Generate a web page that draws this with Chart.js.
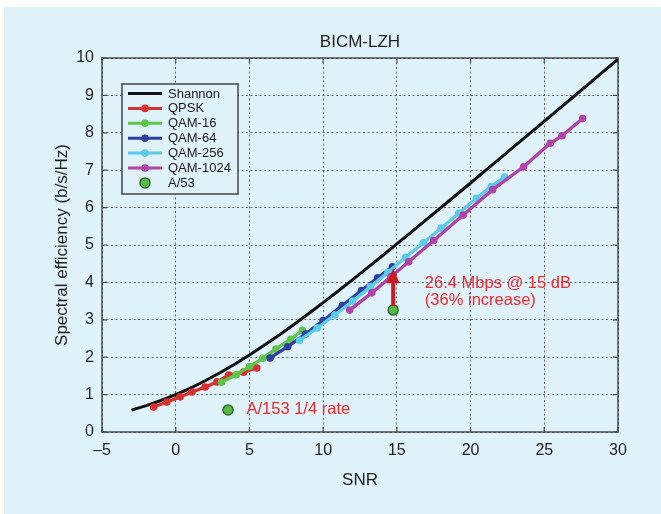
<!DOCTYPE html>
<html>
<head>
<meta charset="utf-8">
<title>BICM-LZH</title>
<script src="https://cdn.jsdelivr.net/npm/chart.js@4.4.1/dist/chart.umd.min.js"></script>
<style>
  html, body { margin: 0; padding: 0; background: #fff; }
  #wrap { width: 661px; height: 514px; position: relative; }
</style>
</head>
<body>
<div id="wrap"><canvas id="chart" width="661" height="514"></canvas></div>
<script>
// --- data ---
const xTicks = [-5, 0, 5, 10, 15, 20, 25, 30];
const yTicks = [0, 1, 2, 3, 4, 5, 6, 7, 8, 9, 10];

const shannonSnr = [-3, -2, -1, 0, 1, 2, 3, 4, 5, 6, 7, 8, 9, 10, 11, 12, 13, 14, 15, 16,
  17, 18, 19, 20, 21, 22, 23, 24, 25, 26, 27, 28, 29, 30];
const shannonEff = [0.586, 0.706, 0.843, 1.0, 1.176, 1.370, 1.583, 1.812, 2.057, 2.317,
  2.588, 2.870, 3.161, 3.459, 3.764, 4.075, 4.389, 4.707, 5.028, 5.351,
  5.676, 6.002, 6.330, 6.658, 6.988, 7.317, 7.648, 7.979, 8.309, 8.640,
  8.971, 9.302, 9.634, 9.967];

const qpskSnr = [-1.5, -0.6, 0.3, 1.1, 2.0, 2.8, 3.6, 4.6, 5.5];
const qpskEff = [0.67, 0.80, 0.94, 1.07, 1.20, 1.34, 1.52, 1.60, 1.71];

const qam16Snr = [3.1, 4.1, 5.0, 5.9, 6.8, 7.8, 8.6];
const qam16Eff = [1.33, 1.53, 1.75, 1.97, 2.22, 2.48, 2.72];

const qam64Snr = [6.4, 7.6, 8.8, 10.0, 11.3, 12.6, 13.7, 14.7];
const qam64Eff = [1.98, 2.28, 2.62, 2.98, 3.38, 3.78, 4.12, 4.42];

const qam256Snr = [8.4, 9.6, 10.8, 12.0, 13.2, 14.4, 15.6, 16.8, 18.0, 19.2, 20.4, 21.4, 22.3];
const qam256Eff = [2.45, 2.78, 3.13, 3.50, 3.88, 4.27, 4.67, 5.06, 5.45, 5.85, 6.25, 6.56, 6.82];

const qam1024Snr = [11.8, 13.3, 14.6, 15.8, 17.5, 19.5, 21.5, 23.6, 25.4, 26.2, 27.6];
const qam1024Eff = [3.26, 3.72, 4.15, 4.55, 5.12, 5.80, 6.48, 7.09, 7.72, 7.92, 8.38];

const a53Snr = [14.75, 3.55];
const a53Eff = [3.26, 0.59];

// annotation anchors (data units)
const arrowFrom = [14.75, 3.26];
const arrowTo = [14.75, 4.38];
const noteGain = ['26.4 Mbps @ 15 dB', '(36% increase)'];
const noteGainAt = [16.9, 3.98];
const noteLow = 'A/153 1/4 rate';
const noteLowAt = [4.8, 0.59];

const pts = (xs, ys) => xs.map((x, i) => ({ x: x, y: ys[i] }));

const FONT = 'Liberation Sans, Arial, Helvetica, sans-serif';
const PANEL = '#dff1f9';

function serie(label, xs, ys, color, order) {
    return {
        label: label,
        data: pts(xs, ys),
        borderColor: color,
        backgroundColor: color,
        borderWidth: 3.3,
        pointRadius: 3.8,
        pointBorderWidth: 0,
        pointBackgroundColor: color,
        order: order
    };
}

const datasets = [
    { label: 'Shannon', data: pts(shannonSnr, shannonEff), borderColor: '#111', backgroundColor: '#111',
      borderWidth: 3, pointRadius: 0, order: 6 },
    serie('QPSK', qpskSnr, qpskEff, '#d8302e', 5),
    serie('QAM-16', qam16Snr, qam16Eff, '#5fc44a', 4),
    serie('QAM-64', qam64Snr, qam64Eff, '#2e3f9e', 3),
    serie('QAM-256', qam256Snr, qam256Eff, '#5ccbe8', 2),
    serie('QAM-1024', qam1024Snr, qam1024Eff, '#b043aa', 1),
    { label: 'A/53', data: pts(a53Snr, a53Eff), showLine: false, pointRadius: 5, pointBorderWidth: 1.5,
      pointBackgroundColor: '#5cb84a', pointBorderColor: '#2c6e2c', borderColor: '#2c6e2c',
      backgroundColor: '#5cb84a', order: 0 }
];

// fond bleu du panneau
const panelPlugin = {
    id: 'panel',
    beforeDraw(chart) {
        const ctx = chart.ctx;
        ctx.save();
        ctx.fillStyle = PANEL;
        ctx.fillRect(4, 7, 657, 507);
        ctx.restore();
    }
};

// cadre + ticks vers l'intérieur (style matlab)
const framePlugin = {
    id: 'frame',
    beforeDatasetsDraw(chart) {
        const { ctx, chartArea: a, scales } = chart;
        ctx.save();
        ctx.strokeStyle = '#4a4a4a';
        ctx.lineWidth = 1.5;
        ctx.strokeRect(a.left, a.top, a.right - a.left, a.bottom - a.top);
        ctx.lineWidth = 1.2;
        ctx.beginPath();
        xTicks.forEach(v => {
            const px = scales.x.getPixelForValue(v);
            ctx.moveTo(px, a.bottom); ctx.lineTo(px, a.bottom - 5);
            ctx.moveTo(px, a.top); ctx.lineTo(px, a.top + 5);
        });
        yTicks.forEach(v => {
            const py = scales.y.getPixelForValue(v);
            ctx.moveTo(a.left, py); ctx.lineTo(a.left + 5, py);
            ctx.moveTo(a.right, py); ctx.lineTo(a.right - 5, py);
        });
        ctx.stroke();
        ctx.restore();
    }
};

// flèche + textes rouges
const notesPlugin = {
    id: 'notes',
    afterDatasetsDraw(chart) {
        const { ctx, scales } = chart;
        const x0 = scales.x.getPixelForValue(arrowFrom[0]);
        const y0 = scales.y.getPixelForValue(arrowFrom[1]) - 4;
        const y1 = scales.y.getPixelForValue(arrowTo[1]);
        ctx.save();
        ctx.strokeStyle = '#c81c22';
        ctx.fillStyle = '#c81c22';
        ctx.lineWidth = 4;
        ctx.beginPath();
        ctx.moveTo(x0, y0);
        ctx.lineTo(x0, y1 + 12);
        ctx.stroke();
        ctx.beginPath();
        ctx.moveTo(x0, y1);
        ctx.lineTo(x0 - 6.5, y1 + 15);
        ctx.lineTo(x0 + 6.5, y1 + 15);
        ctx.closePath();
        ctx.fill();

        ctx.fillStyle = '#ec2a30';
        ctx.font = '16.5px ' + FONT;
        ctx.textBaseline = 'middle';
        ctx.textAlign = 'left';
        const gx = scales.x.getPixelForValue(noteGainAt[0]);
        const gy = scales.y.getPixelForValue(noteGainAt[1]);
        ctx.fillText(noteGain[0], gx, gy);
        ctx.fillText(noteGain[1], gx, gy + 17);
        ctx.fillText(noteLow, scales.x.getPixelForValue(noteLowAt[0]), scales.y.getPixelForValue(noteLowAt[1]));
        ctx.restore();
    }
};

// légende dans le graphe, en haut à gauche
const legendPlugin = {
    id: 'insideLegend',
    afterDraw(chart) {
        const ctx = chart.ctx;
        const bx = 122, by = 84, bw = 116, bh = 110, rowH = 14.9;
        ctx.save();
        ctx.fillStyle = PANEL;
        ctx.fillRect(bx, by, bw, bh);
        ctx.strokeStyle = '#444';
        ctx.lineWidth = 1.5;
        ctx.strokeRect(bx, by, bw, bh);
        ctx.font = '13px ' + FONT;
        ctx.textBaseline = 'middle';
        chart.data.datasets.forEach((ds, i) => {
            const y = by + 9.5 + i * rowH;
            if (ds.showLine !== false) {
                ctx.strokeStyle = ds.borderColor;
                ctx.lineWidth = 3;
                ctx.beginPath();
                ctx.moveTo(bx + 6, y);
                ctx.lineTo(bx + 40, y);
                ctx.stroke();
            }
            if (ds.pointRadius > 0) {
                ctx.beginPath();
                ctx.arc(bx + 23, y, ds.pointRadius, 0, Math.PI * 2);
                ctx.fillStyle = ds.pointBackgroundColor;
                ctx.fill();
                if (ds.pointBorderWidth) {
                    ctx.strokeStyle = ds.pointBorderColor;
                    ctx.lineWidth = ds.pointBorderWidth;
                    ctx.stroke();
                }
            }
            ctx.fillStyle = '#1a1a1a';
            ctx.fillText(ds.label, bx + 46, y + 0.5);
        });
        ctx.restore();
    }
};

const chart = new Chart(document.getElementById('chart'), {
    type: 'line',
    data: { datasets: datasets },
    plugins: [panelPlugin, framePlugin, notesPlugin, legendPlugin],
    options: {
        responsive: false,
        animation: false,
        devicePixelRatio: 1,
        layout: { padding: { left: 0, right: 43, top: 0, bottom: 0 } },
        plugins: {
            legend: { display: false },
            tooltip: { enabled: false },
            title: {
                display: true,
                text: 'BICM-LZH',
                fullSize: false,
                color: '#1e1e1e',
                font: { family: FONT, size: 17, weight: 'normal' },
                padding: { top: 32, bottom: 5.6 }
            }
        },
        scales: {
            x: {
                type: 'linear',
                min: -5, max: 30,
                afterBuildTicks: s => { s.ticks = xTicks.map(v => ({ value: v })); },
                afterFit: s => { s.height = 82; },
                ticks: {
                    color: '#1e1e1e',
                    font: { family: FONT, size: 16 },
                    padding: 9,
                    maxRotation: 0,
                    callback: v => (v < 0 ? '\u2013' + Math.abs(v) : String(v))
                },
                grid: { color: 'rgba(70,70,70,0.8)', lineWidth: 1, drawTicks: false },
                border: { display: false, dash: [2, 2.5] },
                title: {
                    display: true, text: 'SNR', color: '#1e1e1e',
                    font: { family: FONT, size: 17 },
                    padding: { top: 0, bottom: 23 }
                }
            },
            y: {
                type: 'linear',
                min: 0, max: 10,
                afterBuildTicks: s => { s.ticks = yTicks.map(v => ({ value: v })); },
                afterFit: s => { s.width = 102; },
                ticks: {
                    color: '#1e1e1e',
                    font: { family: FONT, size: 16 },
                    padding: 8
                },
                grid: { color: 'rgba(70,70,70,0.8)', lineWidth: 1, drawTicks: false },
                border: { display: false, dash: [2, 2.5] },
                title: {
                    display: true, text: 'Spectral efficiency (b/s/Hz)', color: '#1e1e1e',
                    font: { family: FONT, size: 17 },
                    padding: { top: 52, bottom: 0 }
                }
            }
        }
    }
});
</script>
</body>
</html>
